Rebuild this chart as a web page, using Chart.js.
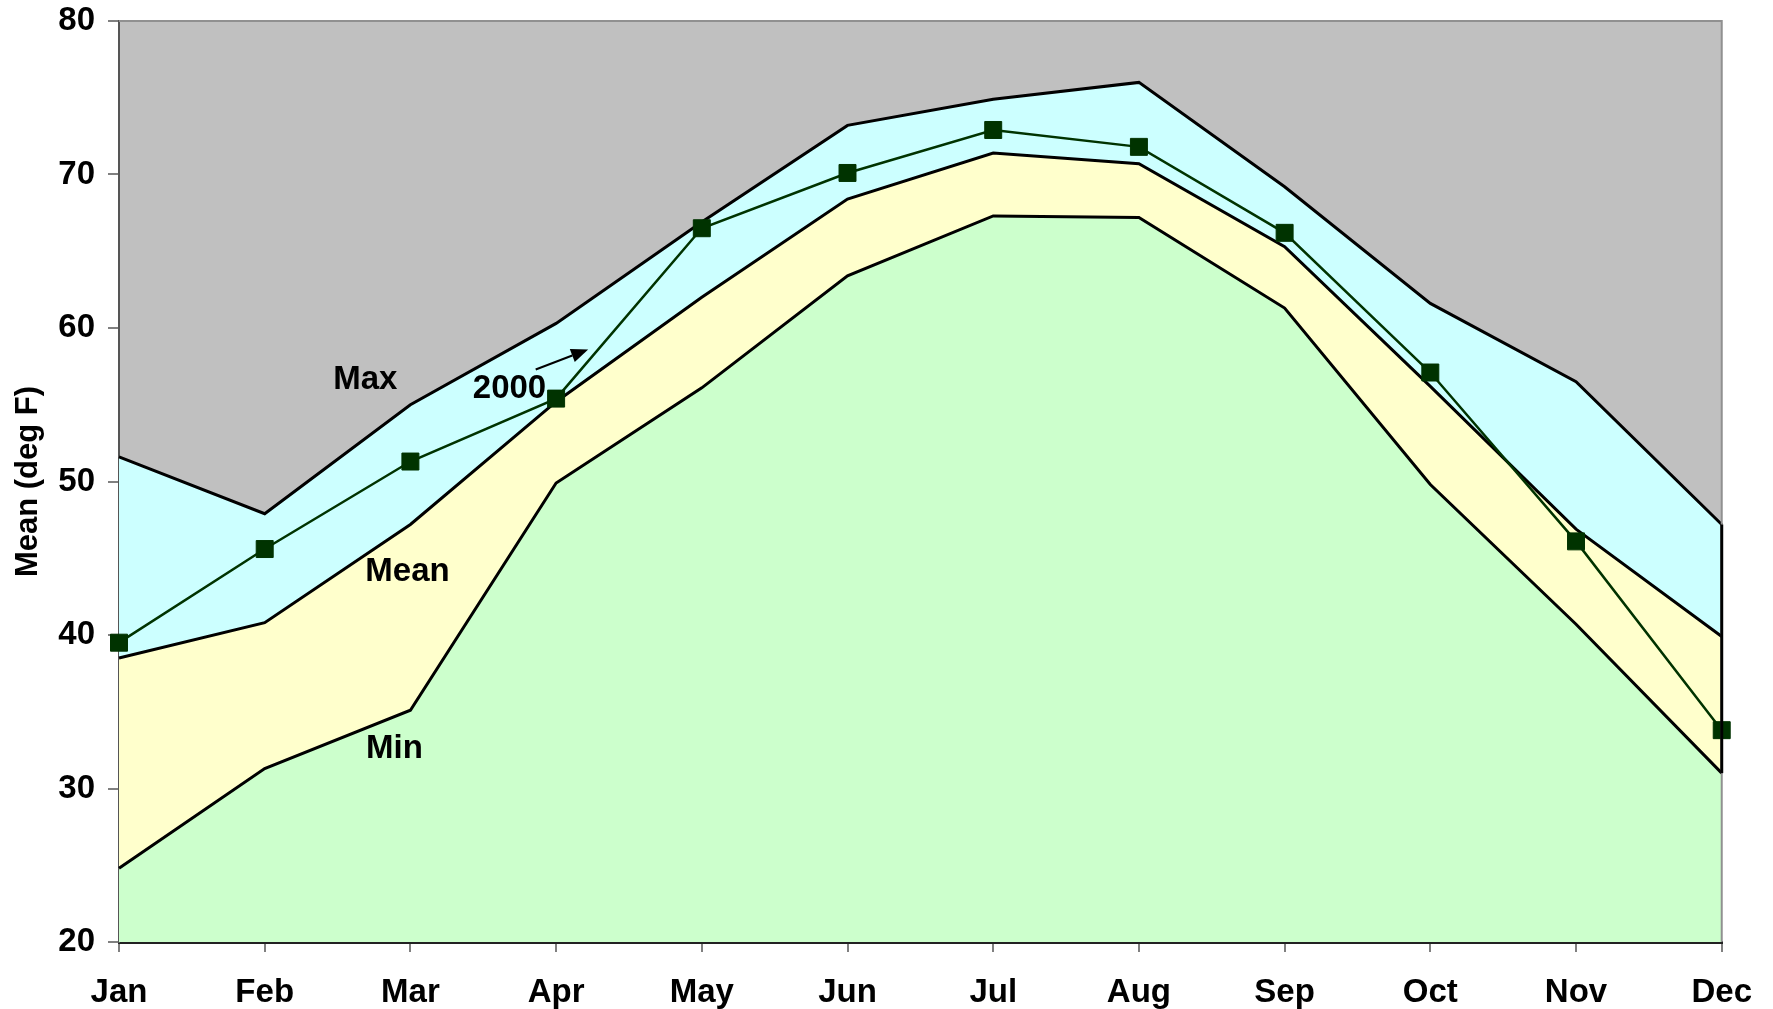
<!DOCTYPE html>
<html>
<head>
<meta charset="utf-8">
<title>Monthly temperature</title>
<script src="https://cdn.jsdelivr.net/npm/chart.js@4.4.1/dist/chart.umd.min.js"></script>
<style>
  html, body { margin: 0; padding: 0; background: #fff; }
  #wrap { width: 1773px; height: 1009px; }
</style>
</head>
<body>
<div id="wrap"><canvas id="chart" width="1773" height="1009"></canvas></div>
<script>
const months = ['Jan', 'Feb', 'Mar', 'Apr', 'May', 'Jun', 'Jul', 'Aug', 'Sep', 'Oct', 'Nov', 'Dec'];
const maxTemps  = [51.6, 47.9, 55.0, 60.3, 66.9, 73.2, 74.9, 76.0, 69.2, 61.6, 56.5, 47.2];
const meanTemps = [38.5, 40.8, 47.2, 55.2, 62.0, 68.4, 71.4, 70.7, 65.3, 56.2, 46.9, 39.9];
const minTemps  = [24.8, 31.3, 35.1, 49.9, 56.1, 63.4, 67.3, 67.2, 61.3, 49.8, 40.7, 31.0];
const temps2000 = [39.5, 45.6, 51.3, 55.4, 66.5, 70.1, 72.9, 71.8, 66.2, 57.1, 46.1, 33.8];
const yMin = 20, yMax = 80, yStep = 10;

// where the band names sit, in (month index, deg F)
const bandLabels = [
  { text: 'Max',  at: [1.69, 56.6] },
  { text: 'Mean', at: [1.98, 44.1] },
  { text: 'Min',  at: [1.89, 32.6] },
  { text: '2000', at: [2.68, 56.0] }
];
const arrow2000 = { from: [2.86, 57.3], to: [3.22, 58.6] };

const FONT = "'Liberation Sans', Arial, sans-serif";

const plotFrame = {
  id: 'plotFrame',
  beforeDraw(chart) {
    const { ctx, chartArea: a } = chart;
    ctx.save();
    ctx.fillStyle = '#c0c0c0';
    ctx.fillRect(a.left, a.top, a.right - a.left, a.bottom - a.top);
    ctx.restore();
  },
  afterDatasetsDraw(chart) {
    const { ctx, chartArea: a, scales } = chart;
    const x = scales.x, y = scales.y;
    ctx.save();
    // top and right edge of the plot area
    ctx.strokeStyle = '#909090';
    ctx.lineWidth = 2;
    ctx.beginPath();
    ctx.moveTo(a.left, a.top);
    ctx.lineTo(a.right, a.top);
    ctx.lineTo(a.right, a.bottom);
    ctx.stroke();
    // closing edge of the stacked areas at Dec
    const last = months.length - 1;
    ctx.strokeStyle = '#000';
    ctx.lineWidth = 3;
    ctx.beginPath();
    ctx.moveTo(x.getPixelForValue(last), y.getPixelForValue(maxTemps[last]));
    ctx.lineTo(x.getPixelForValue(last), y.getPixelForValue(minTemps[last]));
    ctx.stroke();

    // band labels
    ctx.fillStyle = '#000';
    ctx.font = 'bold 33px ' + FONT;
    ctx.textAlign = 'center';
    ctx.textBaseline = 'middle';
    bandLabels.forEach(l => {
      ctx.fillText(l.text, x.getPixelForValue(l.at[0]), y.getPixelForValue(l.at[1]));
    });

    // arrow pointing at the 2000 line
    const x0 = x.getPixelForValue(arrow2000.from[0]), y0 = y.getPixelForValue(arrow2000.from[1]);
    const x1 = x.getPixelForValue(arrow2000.to[0]),   y1 = y.getPixelForValue(arrow2000.to[1]);
    const ang = Math.atan2(y1 - y0, x1 - x0);
    const head = 17, half = 7;
    ctx.strokeStyle = '#000';
    ctx.lineWidth = 2;
    ctx.beginPath();
    ctx.moveTo(x0, y0);
    ctx.lineTo(x1 - head * Math.cos(ang), y1 - head * Math.sin(ang));
    ctx.stroke();
    ctx.beginPath();
    ctx.moveTo(x1, y1);
    ctx.lineTo(x1 - head * Math.cos(ang) + half * Math.sin(ang), y1 - head * Math.sin(ang) - half * Math.cos(ang));
    ctx.lineTo(x1 - head * Math.cos(ang) - half * Math.sin(ang), y1 - head * Math.sin(ang) + half * Math.cos(ang));
    ctx.closePath();
    ctx.fill();
    ctx.restore();
  }
};

const ctx = document.getElementById('chart');
new Chart(ctx, {
  type: 'line',
  data: {
    labels: months,
    datasets: [
      {
        label: '2000',
        data: temps2000,
        borderColor: '#003300',
        backgroundColor: '#003300',
        borderWidth: 2.5,
        pointStyle: 'rect',
        pointRadius: 12,
        pointBorderWidth: 1,
        fill: false,
        tension: 0
      },
      {
        label: 'Max',
        data: maxTemps,
        borderColor: '#000',
        borderWidth: 3,
        backgroundColor: '#ccffff',
        pointRadius: 0,
        fill: '+1',
        tension: 0
      },
      {
        label: 'Mean',
        data: meanTemps,
        borderColor: '#000',
        borderWidth: 3,
        backgroundColor: '#ffffcc',
        pointRadius: 0,
        fill: '+1',
        tension: 0
      },
      {
        label: 'Min',
        data: minTemps,
        borderColor: '#000',
        borderWidth: 3,
        backgroundColor: '#ccffcc',
        pointRadius: 0,
        fill: 'start',
        tension: 0
      }
    ]
  },
  options: {
    responsive: false,
    animation: false,
    devicePixelRatio: 1,
    layout: { padding: { left: 0, right: 43, top: 21, bottom: 0 } },
    plugins: {
      legend: { display: false },
      tooltip: { enabled: false },
      filler: { drawTime: 'beforeDatasetsDraw' }
    },
    scales: {
      x: {
        offset: false,
        grid: { drawOnChartArea: false, drawTicks: true, tickLength: 10, color: '#808080', lineWidth: 2 },
        border: { display: true, color: '#222', width: 3 },
        ticks: {
          color: '#000',
          font: { family: FONT, size: 33, weight: 'bold' },
          padding: 21,
          maxRotation: 0,
          autoSkip: false
        },
        afterFit(scale) { scale.height = 67; }
      },
      y: {
        min: yMin,
        max: yMax,
        grid: { drawOnChartArea: false, drawTicks: true, tickLength: 11, color: '#808080', lineWidth: 2 },
        border: { display: true, color: '#555', width: 2 },
        ticks: {
          stepSize: yStep,
          color: '#000',
          font: { family: FONT, size: 33, weight: 'bold' },
          padding: 13
        },
        title: {
          display: true,
          text: 'Mean (deg F)',
          color: '#000',
          font: { family: FONT, size: 31, weight: 'bold' },
          padding: { top: 10, bottom: 0 }
        },
        afterFit(scale) {
          scale.width = 119;
          // let the layout padding decide the top/bottom of the plot
          scale.paddingTop = 0;
          scale.paddingBottom = 0;
        }
      }
    }
  },
  plugins: [plotFrame]
});
</script>
</body>
</html>
